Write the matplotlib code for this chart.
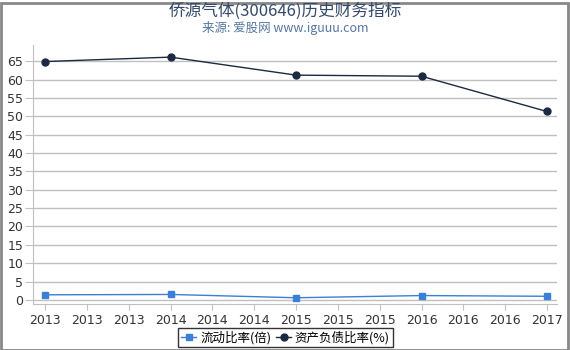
import matplotlib
matplotlib.use("Agg")
import matplotlib.pyplot as plt
from matplotlib.patches import Rectangle
from matplotlib.ticker import FixedLocator, FuncFormatter

plt.rcParams['font.family'] = ['Noto Sans CJK SC', 'DejaVu Sans']

years = [2013, 2014, 2015, 2016, 2017]
current_ratio = [1.4, 1.5, 0.6, 1.2, 1.0]
debt_ratio = [64.9, 66.1, 61.2, 60.9, 51.3]
title = "侨源气体(300646)历史财务指标"
subtitle = "来源: 爱股网 www.iguuu.com"
label_cr = "流动比率(倍)"
label_dr = "资产负债比率(%)"

fig = plt.figure(figsize=(5.7, 3.5), dpi=100)
ax = fig.add_axes([33/570, 1-304/350, (557-33)/570, (304-45)/350])

ax.plot(years, current_ratio, color="#3b7fd6", marker="s", markersize=5, linewidth=1, label=label_cr)
ax.plot(years, debt_ratio, color="#1b2a41", marker="o", markersize=5, linewidth=1, label=label_dr)

ax.set_xlim(2013 - 12/125.5, 2017 + 10/125.5)
ax.set_ylim(-1.1, 69.4)
ax.set_yticks(range(0, 70, 5))
ticks = [2013 + i/3 for i in range(13)]
ax.xaxis.set_major_locator(FixedLocator(ticks))
ax.xaxis.set_major_formatter(FuncFormatter(lambda v, p: str(int(v + 1e-6))))
ax.grid(axis="y", color="#c0c0c0", linewidth=1)
ax.set_axisbelow(True)
for s in ["top", "right"]:
    ax.spines[s].set_visible(False)
ax.spines["left"].set_color("#c0c0c0")
ax.spines["bottom"].set_color("#c0c0c0")
ax.tick_params(axis="both", colors="#c0c0c0", labelcolor="#333333", labelsize=9, length=4)
ax.tick_params(axis="y", length=6, pad=1)
for lbl in ax.get_xticklabels() + ax.get_yticklabels():
    lbl.set_fontfamily("DejaVu Sans")

fig.text(0.5, 1-11/350, title, ha="center", va="center", fontsize=12, color="#34496a")
fig.text(0.5, 1-28/350, subtitle, ha="center", va="center", fontsize=9, color="#5577a0")

leg = fig.legend(loc="center", bbox_to_anchor=(285.5/570, 1-337.5/350), ncol=2, frameon=True,
                 fontsize=9, handlelength=1.2, handletextpad=0.3, columnspacing=0.4,
                 borderpad=0.25, borderaxespad=0, fancybox=False, edgecolor="black")
leg.get_frame().set_linewidth(1)

fig.patches.append(Rectangle((0.5/570, 0.5/350), 1-3/570, 1-3/350, transform=fig.transFigure,
                             fill=False, edgecolor="#888888", linewidth=2))
fig.savefig("out.png", dpi=100)
